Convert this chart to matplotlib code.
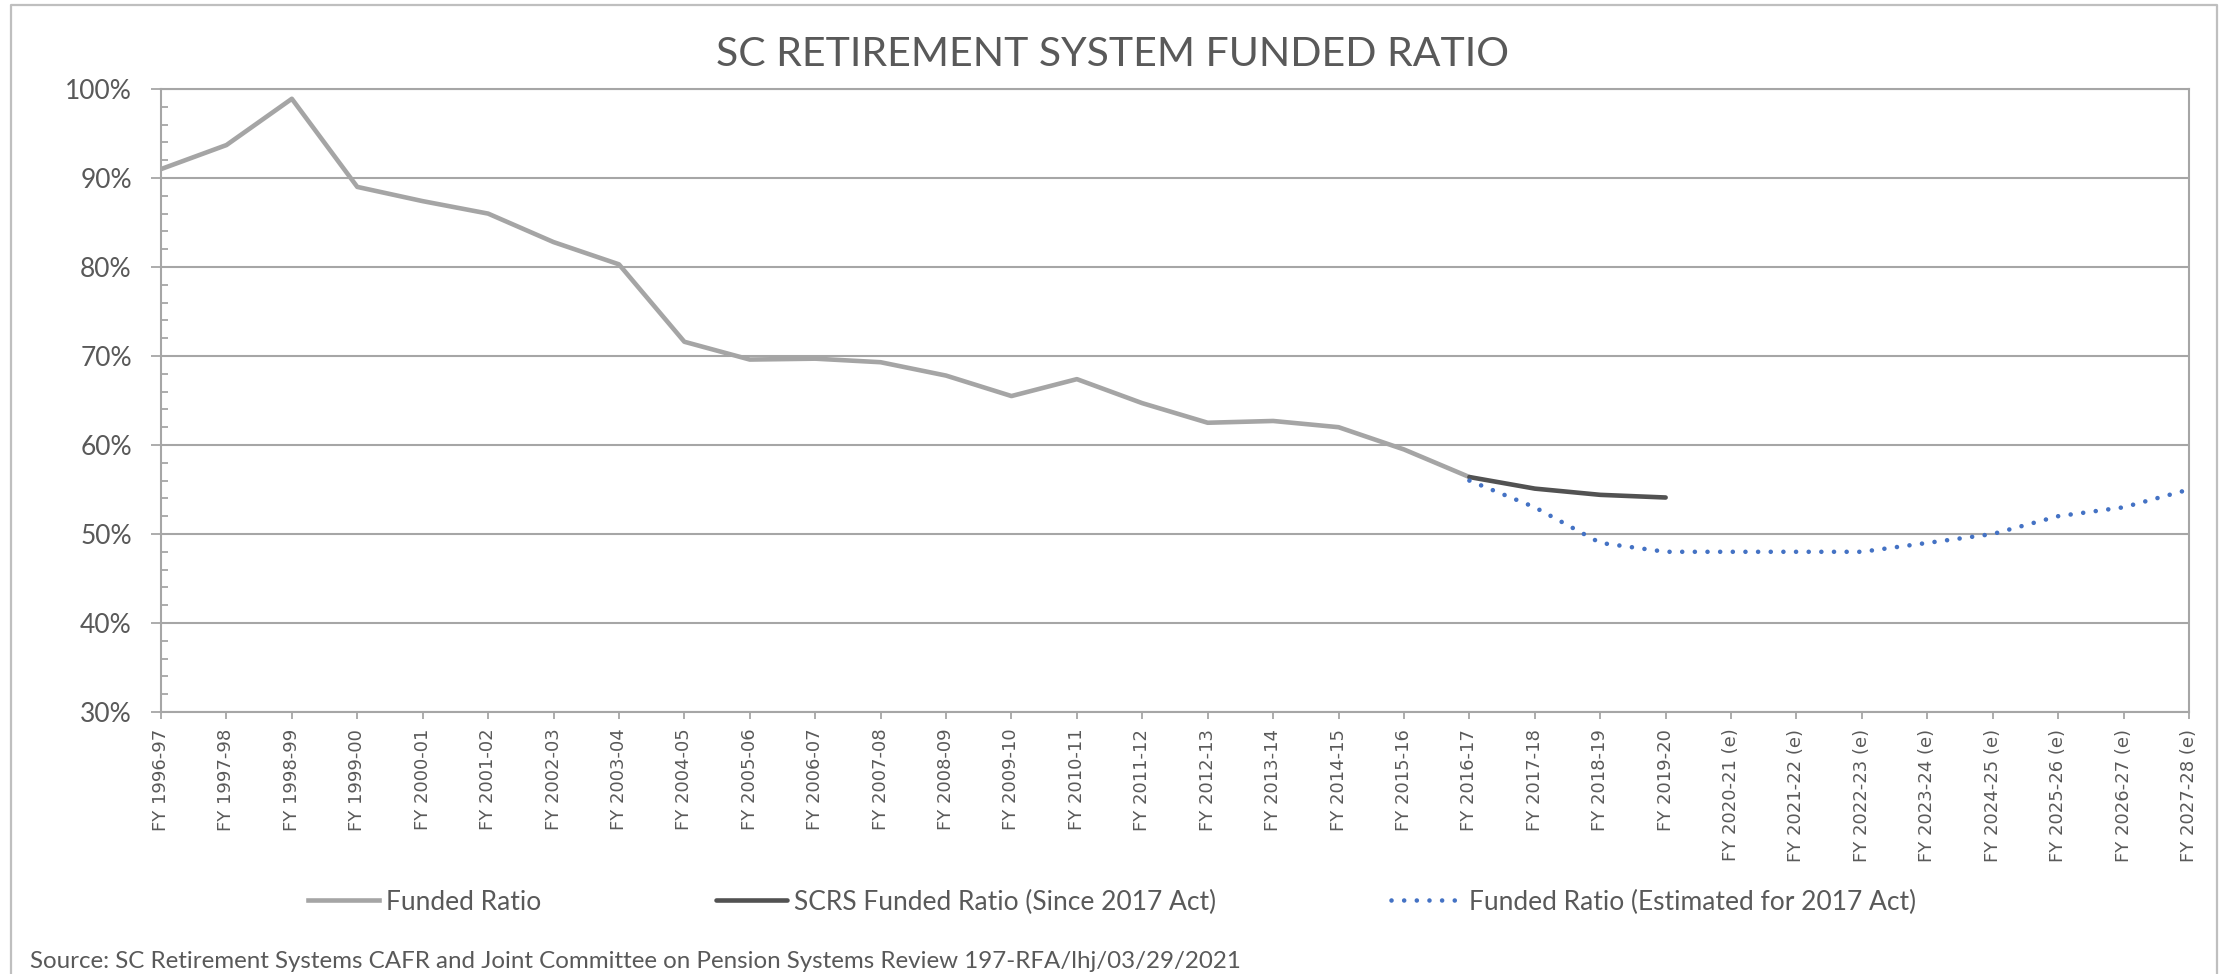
import matplotlib.pyplot as plt
from matplotlib.ticker import MultipleLocator, FuncFormatter
from matplotlib.lines import Line2D

# fiscal years on the x axis (e = estimate)
years = ["FY 1996-97", "FY 1997-98", "FY 1998-99", "FY 1999-00", "FY 2000-01", "FY 2001-02",
         "FY 2002-03", "FY 2003-04", "FY 2004-05", "FY 2005-06", "FY 2006-07", "FY 2007-08",
         "FY 2008-09", "FY 2009-10", "FY 2010-11", "FY 2011-12", "FY 2012-13", "FY 2013-14",
         "FY 2014-15", "FY 2015-16", "FY 2016-17", "FY 2017-18", "FY 2018-19", "FY 2019-20",
         "FY 2020-21 (e)", "FY 2021-22 (e)", "FY 2022-23 (e)", "FY 2023-24 (e)",
         "FY 2024-25 (e)", "FY 2025-26 (e)", "FY 2026-27 (e)", "FY 2027-28 (e)"]

# funded ratio in %, FY 1996-97 .. FY 2016-17
funded = [91.0, 93.7, 98.9, 89.0, 87.4, 86.0, 82.8, 80.3, 71.6, 69.6, 69.7,
          69.3, 67.8, 65.5, 67.4, 64.7, 62.5, 62.7, 62.0, 59.5, 56.4]
# SCRS funded ratio since the 2017 act, FY 2016-17 .. FY 2019-20
scrs = [56.4, 55.1, 54.4, 54.1]
# estimated for the 2017 act, FY 2016-17 .. FY 2027-28
estimated = [56.0, 53.0, 49.0, 48.0, 48.0, 48.0, 48.0, 49.0, 50.0, 52.0, 53.0, 55.0]

txt = "#595959"
grid = "#A6A6A6"

plt.rcParams['font.family'] = ['Lato', 'DejaVu Sans']

fig = plt.figure(figsize=(22.24, 9.74), dpi=100)
ax = fig.add_axes([161/2224, 1 - 712/974, (2189 - 161)/2224, (712 - 89)/974])

x_funded = list(range(len(funded)))
x_scrs = list(range(20, 20 + len(scrs)))
x_est = list(range(20, 20 + len(estimated)))

ax.plot(x_funded, funded, color="#A5A5A5", lw=3.3, solid_joinstyle="round", label="Funded Ratio")
ax.plot(x_scrs, scrs, color="#525252", lw=3.3, solid_capstyle="round", solid_joinstyle="round",
        label="SCRS Funded Ratio (Since 2017 Act)")
ax.plot(x_est, estimated, color="#4472C4", lw=3.3, linestyle=(0, (0.01, 2.75)),
        dash_capstyle="round", label="Funded Ratio (Estimated for 2017 Act)")

ax.set_xlim(0, len(years) - 1)
ax.set_ylim(30, 100)

# y axis: major every 10%, minor every 2% (inside)
ax.yaxis.set_major_locator(MultipleLocator(10))
ax.yaxis.set_minor_locator(MultipleLocator(2))
ax.yaxis.set_major_formatter(FuncFormatter(lambda v, p: f"{v:.0f}%"))
ax.tick_params(axis="y", which="major", direction="out", length=7, width=1.3, color=grid,
               labelsize=19, labelcolor=txt, pad=14)
ax.tick_params(axis="y", which="minor", direction="in", length=5, width=1.3, color=grid)

ax.set_xticks(range(len(years)))
ax.set_xticklabels(years, rotation=90, fontfamily="DejaVu Sans", fontsize=13, color=txt)
ax.tick_params(axis="x", direction="out", length=5, width=1.3, color=grid, pad=7)

ax.grid(axis="y", which="major", color=grid, lw=1.5)
ax.set_axisbelow(True)
for s in ax.spines.values():
    s.set_color(grid)
    s.set_linewidth(1.5)

fig.text(0.5, 1 - 55/974, "SC RETIREMENT SYSTEM FUNDED RATIO", ha="center", va="center",
         fontsize=29.5, color=txt)

# legend below the tick labels
handles, labels = ax.get_legend_handles_labels()
fig.legend(handles, labels, loc="center", bbox_to_anchor=(0.5, 1 - 902/974), ncol=3,
           frameon=False, fontsize=19, labelcolor=txt, handlelength=2.7,
           handletextpad=0.28, columnspacing=6.6)

fig.text(30/2224, 1 - 962/974, "Source: SC Retirement Systems CAFR and Joint Committee on Pension "
         "Systems Review 197-RFA/lhj/03/29/2021", ha="left", va="center", fontsize=17.4, color=txt)

# outer chart border (left, top, right)
fig.add_artist(Line2D([11/2224, 11/2224, 2217/2224, 2217/2224], [0, 1 - 5/974, 1 - 5/974, 0],
                      transform=fig.transFigure, color="#BFBFBF", lw=1.6))

fig.savefig("out.png", dpi=100)
